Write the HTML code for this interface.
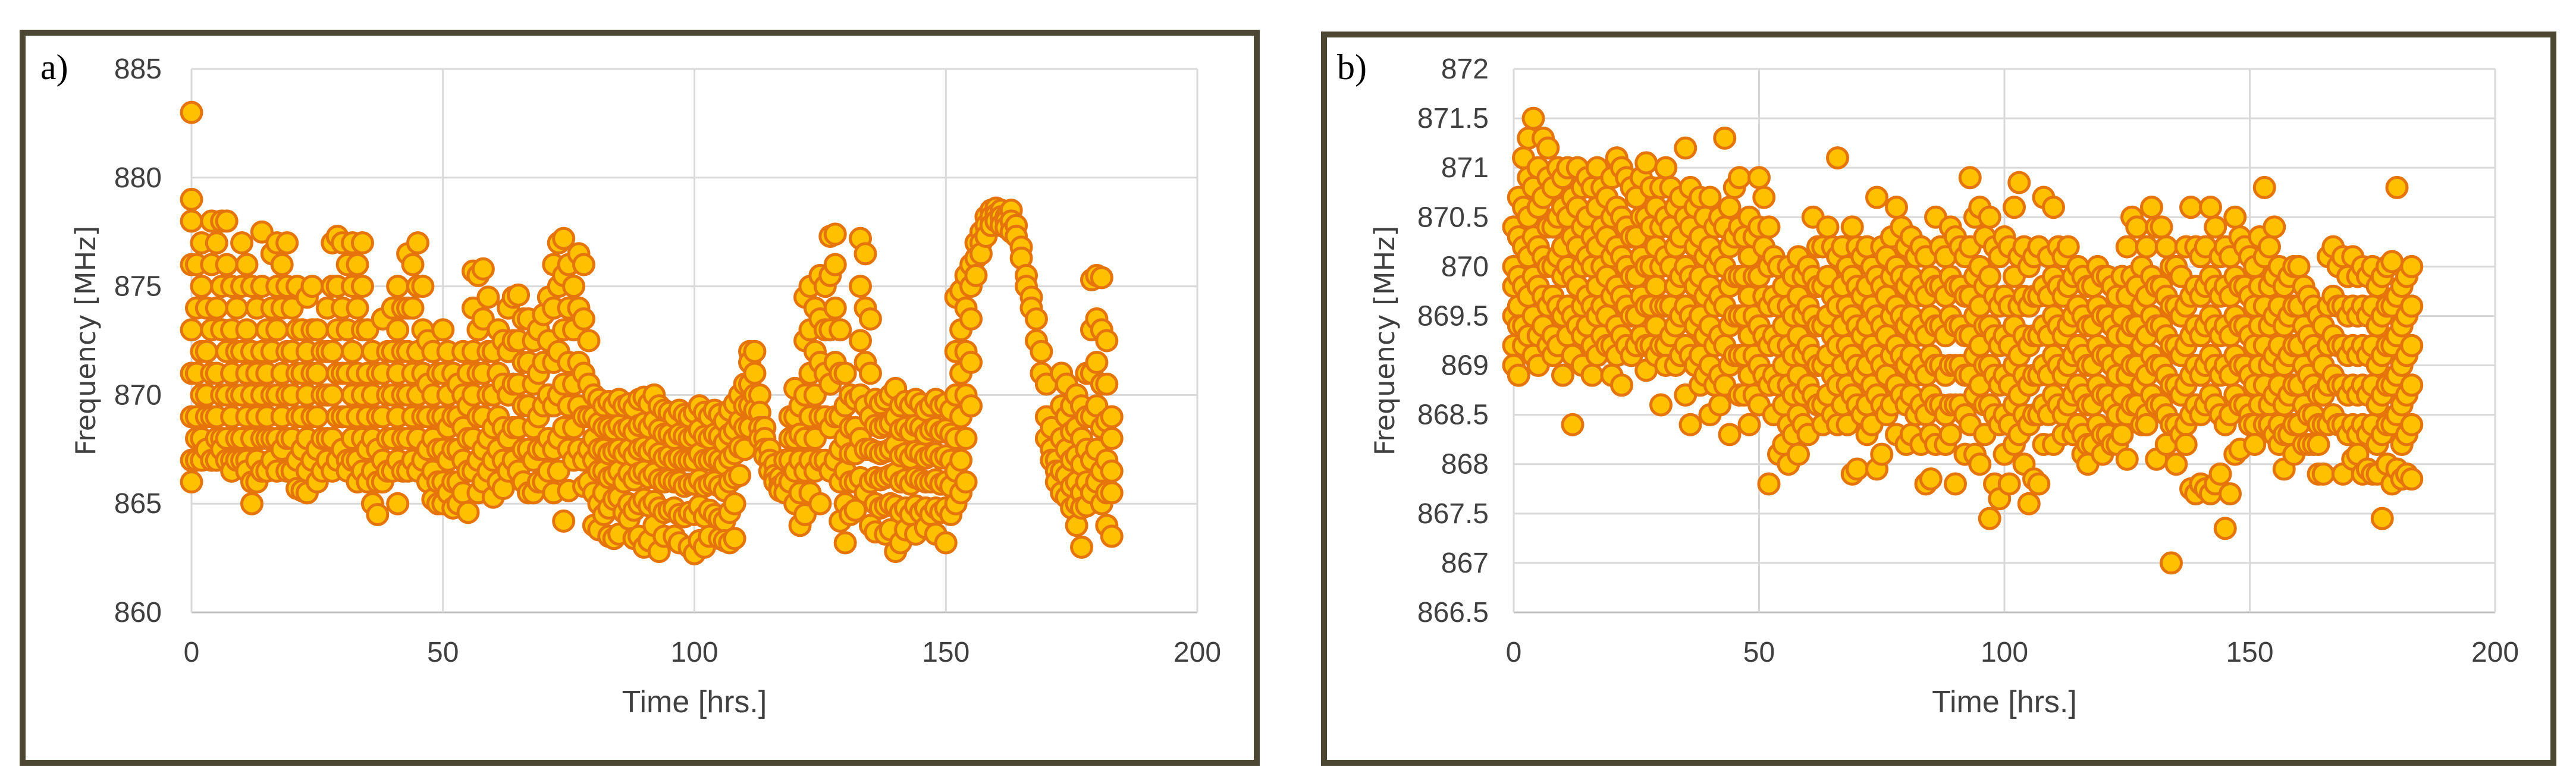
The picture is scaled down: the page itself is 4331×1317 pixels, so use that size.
<!DOCTYPE html>
<html><head><meta charset="utf-8"><style>
html,body{margin:0;padding:0;background:#fff;}
svg{display:block;}
</style></head><body>
<svg id="root" xmlns="http://www.w3.org/2000/svg" width="4331" height="1317" viewBox="0 0 4331 1317">
<rect x="0" y="0" width="4331" height="1317" fill="#fff"/>
<rect x="38" y="55" width="2075" height="1228" fill="#fff" stroke="#4b4733" stroke-width="10"/>
<rect x="2226" y="58" width="2067" height="1225" fill="#fff" stroke="#4b4733" stroke-width="10"/>
<text x="68" y="133" font-family="Liberation Serif, serif" font-size="60">a)</text>
<text x="2248" y="133" font-family="Liberation Serif, serif" font-size="60">b)</text>
<g id="chartA"></g>
<g id="chartB"></g>
</svg>
<script>
const xTicks = [0,50,100,150,200];
const yTicksA = [860,865,870,875,880,885];
const yTicksB = [866.5,867,867.5,868,868.5,869,869.5,870,870.5,871,871.5,872];
const colsA = [
[883,879,878,876,873,871,869,867,866],[876,874,871,869,868,867],[877,875,872,870,868,867],[874,872,870,869,867.5],[878,876,873,871,869,867],[877,874,871,869,868,867],[878,875,873,870,868,867.5],[878,876,872,870,868,867],[875,873,871,869,867,866.5],[874,872,870,868,867],
[877,875,872,870,868,867],[876,873,871,869,867,866.5],[875,872,870,868,866,865],[874,871,869,867,866],[877.5,875,872,870,868,866.5],[873,871,869,868,866.5],[876.5,874,872,870,868,867],[877,875,873,870,868,866.5],[876,874,871,869,867.5],[877,875,872,870,868,866.5],
[874,872,870,868,866.5],[875,873,871,869,867,865.7],[873,871,869,867.5,865.6],[874.5,872,870,868,866.5,865.5],[875,873,871,869,867],[873,871,869,867.5,866],[872,870,868,866.5],[874,872,870,868,867],[877,875,872,870,868,866.5],[877.3,875,873,871,869,867],
[877,874,871,869,867.5],[876,873,871,869,867,866.5],[877,875,872,870,868,867],[876,874,871,869,867,866],[877,875,873,870,868,866.5],[873,871,869,867.5,866],[872,870,868,866.5,865],[871,869,867.5,866,864.5],[873.5,871,869,867,866],[872,870,868,866.5],
[874,872,870,868,866.5],[875,873,871,869,867,865],[874,872,870,868,866.5],[876.5,874,872,870,868,866.5],[876,874,871,869,867],[877,875,872,870,868,866.5],[875,873,871,869,867],[872.5,870.5,869,867.5,866],[872,870,868,866.5,865.2],[871,869,867.5,866,865],
[873,871,869,867.5,866,865],[872,870,868.5,867,865.5],[871,869,867.5,866,864.8],[870.5,869,867.5,866,865],[872,870,868.5,867,865.5],[871,869.5,868,866.5,864.6],[875.7,874,872,870,868,866.5],[875.5,873,871,869,867,865.5],[875.8,873.5,871,869,867.5,866],[874.5,872,870,868,866.5],
[872,870,868.5,867,865.3],[873,871,869,867.5,866],[872.5,870.5,868.5,867,865.7],[874,872,870,868,866.5],[874.5,872.5,870.5,868.5,867],[874.6,872.5,870.5,868.5,866.5],[873.5,871.5,869.5,867.5,866],[873.5,871.5,869.5,867.5,865.5],[872.5,870.5,868.5,867,865.5],[873,871,869,867.5,866],
[873.7,871.5,869.5,867.5,866],[874.5,872.5,870,868,866.5],[876,874,871.5,869.5,867.5,865.5],[877,875,872,870,868,866.5],[877.2,875.5,873,870.5,868.5,864.2],[876,874,871.5,869.5,867.5,865.6],[875,873,870.5,868.5,867],[876.5,874,871.5,869.5,867.5],[876,873.5,871,869,867,865.8],[872.5,870.5,869,867.5,866],
[870,869,868,867,865.5,864],[869.8,868.7,867.5,866.5,865,863.8],[869.5,868.5,867.5,866.5,865.5,864.5],[869.7,868.5,867.3,866.2,864.8,863.5],[869.5,868.4,867.4,866.3,865.2,863.4],[869.8,868.6,867.5,866.5,865.3,863.6],[869.5,868.4,867.3,866,864.6],[869.6,868.5,867.5,866.4,865,864.3],[869.4,868.3,867.2,866.1,864.7,863.4],[869.8,868.6,867.5,866.4,865,863.5],
[869.9,868.7,867.6,866.5,865.2,863],[869.6,868.5,867.4,866.2,864.9,863.3],[870,868.8,867.6,866.4,865.1,864],[869.5,868.4,867.3,866.1,864.8,862.8],[869.3,868.2,867.1,866,864.6,863.5],[869.2,868.2,867.2,866.1,864.7],[869,868,867,866,864.8,863.5],[869.3,868.2,867.1,866,864.5,863.2],[869.1,868.1,867,865.8,864.4],[869,868,867,865.9,864.6,863],
[869.2,868.1,867,865.9,864.5,862.7],[869.5,868.4,867.3,866.1,864.9,863.3],[869.2,868.1,867,865.8,864.4,863],[869,868,867,865.9,864.7,863.5],[869.3,868.2,867.1,866,864.5],[869.1,868.1,867,865.8,864.3,863.4],[868.8,867.8,866.8,865.6,864.2,863.3],[869.3,868.2,867.1,866,864.6,863.2],[869.6,868.4,867.3,866.2,865,863.4],[870,868.8,867.6,866.3],
[870.5,869.5,868.5,867.5],[872,871.5,870.5,869.5,868.5],[872,871,870,869.3],[870,869.2,868.5,868],[868.5,868,867.5,867.2],[867.5,867,866.5],[866.8,866.3,866],[866.2,865.8,865.6],[867,866,865.5],[869,868,867,866],
[870.3,869,868,866.5,865],[869.5,868.2,867,865.5,864],[874.5,872.5,870,868,866.5,864.5],[875,873,871,869,867,865.5],[874,872,870,868,866.5],[875.5,873.5,871.5,869,867,865],[875,873,871,869,867],[877.3,875.5,873,870.5,868.5,866.5],[877.4,876,874,871.5,869,867],[873,871,869,867.5,866,864.2],
[871,869.5,868,866.5,865,863.2],[870,868.5,867.3,866,864.5],[869.8,868.5,867.3,866,864.7],[877.2,875,872.5,870,868,866.2],[876.5,874,871.5,869.5,867.5,865.5],[873.5,871,869,867.5,866,864],[869.8,868.6,867.4,866.2,865,863.7],[869.6,868.5,867.3,866.1,864.8],[869.8,868.6,867.4,866.2,864.9,863.6],[870,868.7,867.5,866.3,865,863.8],
[870.3,869,867.7,866.4,864.9,862.8],[869.5,868.4,867.2,866,864.6,863.2],[869.7,868.5,867.3,866.1,864.8,863.8],[869.5,868.3,867.1,865.9,864.5],[869.8,868.6,867.4,866.2,864.9,863.6],[869.6,868.5,867.3,866.1,864.6],[869.3,868.2,867.1,866,864.8,863.9],[869.5,868.4,867.2,866,864.5],[869.8,868.5,867.3,866.1,864.8,863.6],[869.5,868.3,867.1,865.9,864.6],
[869.6,868.4,867.2,866,864.8,863.2],[869.3,868.2,867,865.8,864.5],[874.5,872,870,868,866.5,865],[874.8,873,871,869,867,865.5],[875.5,874,872,870,868,866],[876,875,873.5,871.5,869.5],[877,876.3,875.5],[877.5,877,876.5],[878.2,877.8,877.3],[878.5,878.2,877.8],
[878.6,878.3,878],[878.5,878.2,877.8],[878.2,878,877.7],[878.5,878,877.5],[877.8,877.3],[876.8,876.3],[875.5,875],[874.5,874],[873.5,872.5],[872,871],
[870.5,869,868],[868.5,867.5,867],[867,866.5,866],[871,869.5,868,866.5,865.5],[870.5,869,867.5,866.3,865.3],[869.5,868.3,867,865.8,864.8],[870,868.5,867.2,866,865,864],[869.5,868,866.8,865.5,864.8,863],[871,869,867.5,866,864.9],[875.3,873,871,869,867,865.5],
[875.5,873.5,871.5,869.5,867.5,866],[875.4,873,870.5,868.5,866.5,865],[872.5,870.5,868.8,867,865.5,864],[869,868,866.5,865.5,863.5]
];
const colsB = [
[870.4,870,869.8,869.5,869.2,869],[870.7,870.3,869.9,869.6,869.4,868.9],[871.1,870.6,870.2,869.8,869.4,869.2],[871.3,870.9,870.5,870.1,869.7,869.3],[871.5,870.8,870.3,869.9,869.5,869.1],[871,870.6,870.2,869.8,869.3,869],[871.3,870.7,870.1,869.7,869.4],[871.2,870.9,870.4,870,869.6,869.2],[870.8,870.4,870,869.7,869.3,869.1],[871,870.5,870.1,869.6,869.2],
[870.9,870.6,870.2,869.9,869.5,868.9],[871,870.5,870,869.6,869.3],[870.7,870.3,869.9,869.5,869.1,868.4],[871,870.6,870.2,869.8,869.4],[870.8,870.4,870,869.6,869.3,869],[870.9,870.5,870.1,869.7,869.4],[870.8,870.3,870,869.6,869.2,868.9],[871,870.6,870.2,869.8,869.5,869.1],[870.8,870.4,870,869.6,869.3],[870.7,870.3,869.9,869.5,869.2],
[870.9,870.5,870.1,869.7,869.2,868.9],[871.1,870.6,870.2,869.8,869.4,869.1],[871,870.5,870.1,869.7,869.3,868.8],[870.9,870.4,870,869.6,869.2],[870.8,870.3,869.9,869.5,869.1],[870.7,870.3,869.9,869.5,869.2],[870.9,870.5,870.1,869.7,869.3],[871.05,870.5,870,869.6,869.2,868.95],[870.8,870.4,870,869.6,869.2],[870.6,870.2,869.8,869.4,869.1],
[870.8,870.4,870,869.6,869.2,868.6],[871,870.5,870.1,869.6,869.2,869],[870.8,870.4,870,869.6,869.3],[870.6,870.2,869.8,869.4,869],[870.7,870.3,869.9,869.5,869.1],[871.2,870.5,870,869.6,869.2,868.7],[870.8,870.4,869.9,869.5,869.1,868.4],[870.6,870.2,869.8,869.4,869],[870.7,870.3,869.9,869.5,869.1,868.8],[870.5,870.1,869.7,869.3,868.9],
[870.7,870.2,869.8,869.4,869,868.5],[870.4,870,869.6,869.2,868.8],[870.5,870.1,869.7,869.3,868.9,868.6],[871.3,870.4,870,869.6,869.2,868.8],[870.6,870.2,869.8,869.4,869,868.3],[870.8,870.3,869.9,869.5,869.1],[870.9,870.4,869.9,869.5,869.1,868.7],[870.3,869.9,869.5,869.1,868.7],[870.5,870.1,869.7,869.3,868.9,868.4],[870.3,869.9,869.5,869.1,868.7],
[870.9,870.4,869.9,869.4,869,868.6],[870.7,870.2,869.7,869.3,868.9],[870.4,870,869.6,869.2,868.8,867.8],[870.1,869.7,869.3,868.9,868.5],[870,869.6,869.2,868.8,868.1],[869.8,869.4,869,868.6,868.2],[870,869.6,869.2,868.8,868.4,868],[869.9,869.5,869.1,868.7,868.3],[870.1,869.7,869.3,868.9,868.5,868.1],[869.9,869.5,869.1,868.7,868.4],
[870,869.6,869.2,868.8,868.3],[870.5,869.9,869.5,869.1,868.7],[870.2,869.8,869.4,869,868.6],[870.2,869.8,869.4,869,868.6,868.4],[870.4,869.9,869.5,869.1,868.7],[870.2,869.7,869.3,868.9,868.5],[871.1,870.1,869.6,869.2,868.8,868.4],[870.2,869.8,869.4,869,868.6],[870,869.6,869.2,868.8,868.4],[870.4,869.9,869.5,869.1,868.7,867.9],
[870.2,869.8,869.4,869,868.6,867.95],[870.1,869.7,869.3,868.9,868.5],[870.2,869.8,869.4,869,868.6,868.3],[870,869.6,869.2,868.8,868.4],[870.7,869.9,869.5,869.1,868.7,867.95],[870.2,869.8,869.4,869,868.6,868.1],[870.1,869.7,869.3,868.9,868.5],[870.3,869.9,869.5,869.1,868.6],[870.6,870,869.6,869.2,868.8,868.3],[870.4,869.9,869.5,869.1,868.7],
[870.2,869.8,869.4,869,868.6,868.2],[870.3,869.9,869.5,869.1,868.7,868.3],[870.1,869.7,869.3,868.9,868.5],[870.2,869.8,869.4,869,868.6,868.2],[870.1,869.7,869.3,868.9,868.5,867.8],[869.9,869.5,869.1,868.7,868.3,867.85],[870.5,869.8,869.4,869,868.6,868.2],[870.2,869.8,869.4,869,868.6],[870.1,869.7,869.3,868.9,868.5,868.2],[870.4,869.9,869.5,869,868.6,868.3],
[870.3,869.8,869.4,869,868.6,867.8],[870.2,869.8,869.4,869,868.6],[870.1,869.7,869.3,868.9,868.5,868.1],[870.9,870.2,869.7,869.3,868.9,868.4],[870.5,869.9,869.5,869.1,868.7,868.1],[870.6,870,869.6,869.2,868.8,868],[870.3,869.8,869.4,869,868.6,868.3],[870.5,869.9,869.4,869,868.6,867.45],[870.2,869.7,869.3,868.9,868.5,867.8],[870.1,869.6,869.2,868.8,868.4,867.65],
[870.3,869.7,869.3,868.9,868.5,868.1],[870.2,869.6,869.2,868.8,868.4,867.8],[870.6,869.9,869.4,869,868.6,868.2],[870.85,870.1,869.6,869.1,868.7,868.3],[870.2,869.7,869.3,868.9,868.5,868],[870,869.6,869.2,868.8,868.4,867.6],[870.1,869.7,869.3,868.9,868.5,867.85],[870.2,869.7,869.3,868.9,868.5,867.8],[870.7,869.8,869.4,869,868.6,868.2],[870.1,869.7,869.3,868.9,868.5],
[870.6,869.9,869.5,869.1,868.7,868.2],[870.2,869.8,869.4,869,868.6],[870.1,869.7,869.3,868.9,868.5,868.3],[870.2,869.8,869.4,869,868.6],[869.9,869.5,869.1,868.7,868.3],[870,869.6,869.2,868.8,868.4],[869.9,869.5,869.1,868.7,868.3,868.1],[869.8,869.4,869,868.6,868.2,868],[869.8,869.4,869,868.6,868.2],[870,869.6,869.2,868.8,868.4],
[869.9,869.5,869.1,868.7,868.3,868.1],[869.9,869.5,869.1,868.7,868.3],[869.8,869.4,869,868.6,868.2],[869.7,869.3,868.9,868.5,868.2],[869.9,869.5,869.1,868.7,868.3],[870.2,869.7,869.3,868.9,868.5,868.05],[870.5,869.9,869.4,869,868.6],[870.4,869.8,869.4,869,868.6],[870,869.6,869.2,868.8,868.4],[870.2,869.7,869.3,868.9,868.5,868.4],
[870.6,869.9,869.5,869.1,868.7],[870.4,869.8,869.4,869,868.6,868.05],[870.4,869.8,869.4,869,868.6],[870.2,869.7,869.3,868.9,868.5,868.2],[870,869.6,869.2,868.8,868.4,867],[870,869.6,869.2,868.8,868.4,868],[869.9,869.5,869.1,868.7,868.3],[870.2,869.6,869.2,868.8,868.4,868.2],[870.6,869.7,869.3,868.9,868.5,867.75],[870.2,869.8,869.4,869,868.6,867.7],
[870.1,869.7,869.3,868.9,868.5,867.8],[870.2,869.8,869.4,869,868.6,867.75],[870.6,869.9,869.5,869.1,868.7,867.7],[870.4,869.8,869.4,869,868.6,867.8],[870.1,869.7,869.3,868.9,868.5,867.9],[870.2,869.8,869.4,869,868.4,867.35],[870.1,869.7,869.3,868.9,868.5,867.7],[870.5,869.9,869.5,869.1,868.7,868.1],[870.3,869.8,869.4,869,868.6,868.15],[870.2,869.8,869.4,869,868.6],
[870.1,869.7,869.3,868.9,868.5,868.4],[870,869.6,869.2,868.8,868.4,868.2],[870.3,869.8,869.4,869,868.6],[870.8,870.1,869.6,869.2,868.8,868.4],[870.2,869.8,869.4,869,868.6,868.4],[870.4,869.9,869.5,869.1,868.7,868.3],[870,869.6,869.2,868.8,868.4,868.2],[869.8,869.4,869,868.6,868.3,867.95],[869.9,869.5,869.1,868.7,868.3],[870,869.6,869.2,868.8,868.4,868.1],
[870,869.6,869.2,868.8,868.4],[869.8,869.4,869,868.6,868.2],[869.7,869.3,868.9,868.5,868.2],[869.6,869.2,868.8,868.5,868.2],[869.5,869.1,868.7,868.4,868.2,867.9],[869.4,869,868.7,868.4,867.9],[870.1,869.6,869.2,868.8,868.4],[870.2,869.7,869.3,868.9,868.5],[870,869.6,869.2,868.8,868.4],[870.1,869.6,869.2,868.8,868.4,867.9],
[869.9,869.5,869.1,868.7,868.3],[870.1,869.6,869.2,868.8,868.4,868.05],[869.9,869.5,869.1,868.7,868.3,868.1],[870,869.6,869.2,868.8,868.4,867.9],[869.9,869.5,869.1,868.7,868.3,867.95],[870,869.6,869.2,868.8,868.4,867.9],[869.8,869.4,869,868.6,868.2,867.9],[869.9,869.5,869.1,868.7,868.3,867.45],[870,869.6,869.2,868.8,868.4,868],[870.05,869.6,869.2,868.8,868.4,867.8],
[870.8,869.7,869.3,868.9,868.5,867.95],[869.8,869.4,869,868.6,868.2,867.85],[869.9,869.5,869.1,868.7,868.3,867.9],[870,869.6,869.2,868.8,868.4,867.85]
];
const hoursA = colsA.map((c,i)=>i);
const hoursB = colsB.map((c,i)=>i);

const NS = 'http://www.w3.org/2000/svg';
function mk(tag, attrs, parent){ const e=document.createElementNS(NS,tag); for(const k in attrs) e.setAttribute(k,attrs[k]); parent.appendChild(e); return e; }

function drawChart(g, cfg, yTicks, hours, cols, tag){
  const xs = v => cfg.x0 + (v - 0)/(200-0)*(cfg.x1-cfg.x0);
  const yMin = yTicks[0], yMax = yTicks[yTicks.length-1];
  const ys = v => cfg.y1 - (v - yMin)/(yMax-yMin)*(cfg.y1-cfg.y0);
  yTicks.forEach(t=>{
    const l = mk('line',{x1:cfg.x0,x2:cfg.x1,y1:ys(t),y2:ys(t),stroke: t===yMin?'#bfbfbf':'#d9d9d9','stroke-width':3},g);
    
    
    const tx = mk('text',{x:cfg.x0-cfg.lgap,y:ys(t)+16,'text-anchor':'end','font-family':'Liberation Sans Narrow, Liberation Sans, sans-serif','font-size':48,fill:'#404040'},g);
    tx.textContent = String(t);
    
    
  });
  xTicks.forEach(t=>{
    const l = mk('line',{x1:xs(t),x2:xs(t),y1:cfg.y0,y2:cfg.y1,stroke:'#d9d9d9','stroke-width':3},g);
    
    
    const tx = mk('text',{x:xs(t),y:1113,'text-anchor':'middle','font-family':'Liberation Sans Narrow, Liberation Sans, sans-serif','font-size':48,fill:'#404040'},g);
    tx.textContent = String(t);
    
    
  });
  const xt = mk('text',{x:(cfg.x0+cfg.x1)/2,y:1198,'text-anchor':'middle','font-family':'Liberation Sans Narrow, Liberation Sans, sans-serif','font-size':52,fill:'#404040'},g);
  xt.textContent='Time [hrs.]';
  
  
  const cy=(cfg.y0+cfg.y1)/2;
  const yt = mk('text',{x:cfg.ytx,y:cy,'text-anchor':'middle','font-family':'DejaVu Sans, sans-serif','font-size':46,fill:'#404040',transform:'rotate(-90 '+cfg.ytx+' '+cy+')'},g);
  yt.textContent='Frequency [MHz]';
  
  
  const pts = mk('g',{},g);
  
  
  hours.forEach((h,i)=>{
    cols[i].forEach(v=>{
      const c = mk('circle',{cx:xs(h),cy:ys(v),r:17,fill:'#ffc000',stroke:'#e6740c','stroke-width':5},pts);
      
      
    });
  });
}
drawChart(document.getElementById('chartA'),{x0:322,x1:2013,y0:116,y1:1030,lgap:50,ytx:160},yTicksA,hoursA,colsA,'series-a');
drawChart(document.getElementById('chartB'),{x0:2545,x1:4195,y0:116,y1:1030,lgap:42,ytx:2344},yTicksB,hoursB,colsB,'series-b');
</script>
</body></html>
